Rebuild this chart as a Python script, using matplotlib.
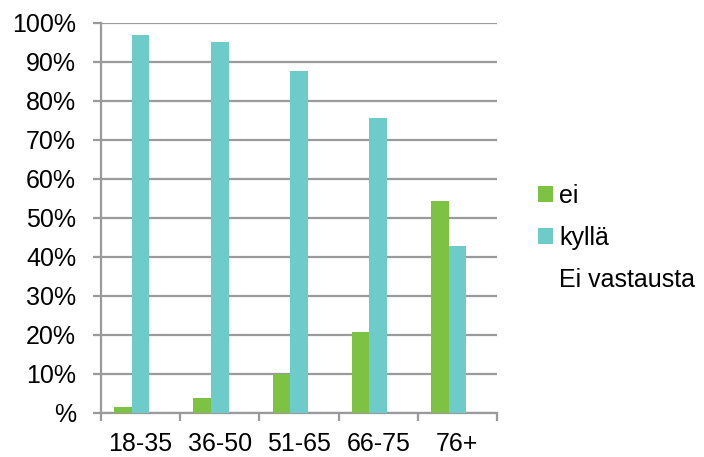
import matplotlib
matplotlib.use("Agg")
import matplotlib.pyplot as plt
import numpy as np
from matplotlib.patches import Patch

plt.rcParams['font.family'] = ['Liberation Sans', 'DejaVu Sans']

categories = ["18-35", "36-50", "51-65", "66-75", "76+"]
ei = [1.6, 3.9, 10.1, 20.7, 54.3]
kylla = [97.0, 95.0, 87.7, 75.7, 42.7]
ei_vastausta = [0, 0, 0, 0, 0]
y_ticks = [0, 10, 20, 30, 40, 50, 60, 70, 80, 90, 100]
y_labels = ["%"] + [f"{v}%" for v in y_ticks[1:]]

green = "#7DC242"
cyan = "#6DCBC9"
grid = "#9A9A9A"
fs = 18

fig = plt.figure(figsize=(7.04, 4.57), dpi=100)
ax = fig.add_axes([0.1435, 0.0963, 0.5625, 0.8534])

x = np.arange(len(categories))
w = 0.222
ax.bar(x - w, ei, width=w, color=green, label="ei", zorder=3)
ax.bar(x, kylla, width=w, color=cyan, label="kyllä", zorder=3)
ax.bar(x + w, ei_vastausta, width=w, color="white", label="Ei vastausta", zorder=3)

ax.set_xlim(-0.5, len(categories) - 0.5)
ax.set_ylim(0, 100)
ax.set_yticks(y_ticks)
ax.set_yticklabels(y_labels, fontsize=fs)
ax.yaxis.grid(True, color=grid, linewidth=1.6, zorder=0)
ax.set_axisbelow(True)

ax.set_xticks(x)
ax.set_xticklabels(categories, fontsize=fs)
ax.set_xticks(np.arange(len(categories) + 1) - 0.5, minor=True)
ax.tick_params(axis='x', which='major', length=0, pad=14)
ax.tick_params(axis='x', which='minor', length=5.5, width=1.6, color=grid)
ax.tick_params(axis='y', length=6, width=1.6, color=grid, pad=12)

for s in ['top', 'right']:
    ax.spines[s].set_visible(False)
for s in ['left', 'bottom']:
    ax.spines[s].set_color(grid)
    ax.spines[s].set_linewidth(1.6)

handles = [Patch(facecolor=green, label="ei"),
           Patch(facecolor=cyan, label="kyllä"),
           Patch(facecolor="none", edgecolor="none", label="Ei vastausta")]
fig.legend(handles=handles, loc='center left', bbox_to_anchor=(0.764, 0.479),
           frameon=False, fontsize=fs, handlelength=0.6, handleheight=0.6,
           handletextpad=0.25, labelspacing=0.72, borderpad=0, borderaxespad=0)

fig.savefig("out.png", dpi=100)
